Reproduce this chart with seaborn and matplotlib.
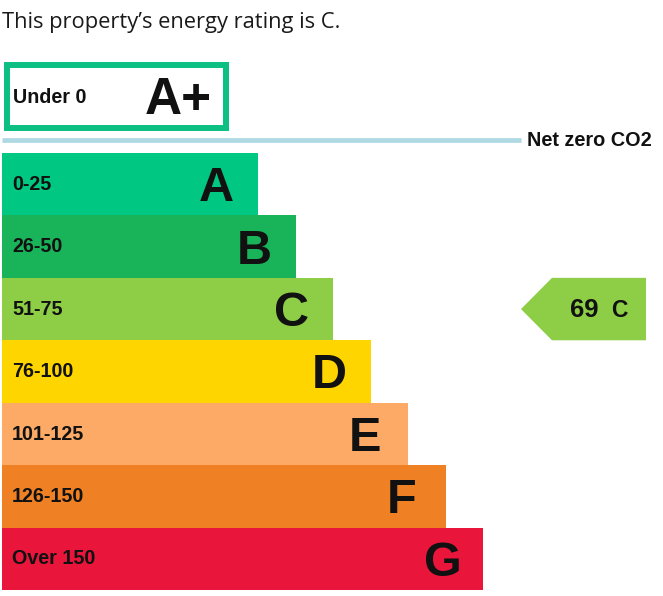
import matplotlib
matplotlib.use("Agg")
import matplotlib.pyplot as plt
import seaborn as sns
import pandas as pd

sns.set_theme(style="white")
plt.rcParams["font.family"] = ["Liberation Sans", "DejaVu Sans"]

# bar lengths in picture pixels, the chart has no real value axis
bands = ["A", "B", "C", "D", "E", "F", "G"]
ranges = ["0-25", "26-50", "51-75", "76-100", "101-125", "126-150", "Over 150"]
lengths = [256, 294, 331, 369, 406, 444, 481]
colors = ["#00c781", "#19b459", "#8dce46", "#ffd500", "#fcaa65", "#ef8023", "#e9153b"]

top_band = ["A+"]
top_range = ["Under 0"]
top_length = [219]

current_score = 69
current_band = "C"
net_zero_label = "Net zero CO2"
title = "This property\u2019s energy rating is C."

W, H = 663, 596
INK = "#111111"
fig = plt.figure(figsize=(W / 100, H / 100), dpi=100)


def px_axes(left, top, right, bottom):
    ax = fig.add_axes([left / W, 1 - bottom / H, (right - left) / W, (bottom - top) / H])
    ax.axis("off")
    return ax


df = pd.DataFrame({"band": bands, "range": ranges, "length": lengths})

# main bands
ax = px_axes(2, 153, 663, 590)
sns.barplot(data=df, x="length", y="band", hue="band", palette=colors, width=1,
            saturation=1, legend=False, dodge=False, linewidth=0, ax=ax)
ax.axis("off")

for i, row in df.iterrows():
    ax.text(10, i - 0.03, row["range"], ha="left", va="center_baseline", fontsize=14.2, fontweight="bold", color=INK)
    ax.text(row["length"] - 59, i - 0.01, row["band"], ha="left", va="center_baseline",
            fontsize=35, fontweight="bold", color=INK)

# A+ box sits above the others
top_df = pd.DataFrame({"band": top_band, "length": top_length})
ax_top = px_axes(7, 65, 300, 128)
sns.barplot(data=top_df, x="length", y="band", width=1, color="white", saturation=1,
            edgecolor="#0cc083", linewidth=4.3, ax=ax_top)
ax_top.set_xlim(0, 293)
ax_top.set_ylim(0.5, -0.5)
ax_top.axis("off")
for p in ax_top.patches:
    p.set_clip_on(False)
ax_top.text(6, -0.02, top_range[0], ha="left", va="center_baseline", fontsize=14.2, fontweight="bold", color=INK)
ax_top.text(138, -0.03, top_band[0], ha="left", va="center_baseline", fontsize=37, fontweight="bold", color=INK)

# net zero line
line_y = 1 - 140 / H
fig.add_artist(plt.Line2D([2 / W, 521 / W], [line_y, line_y], color="#aed8e2", lw=3.4,
                          solid_capstyle="butt"))
fig.text(527 / W, line_y + 1 / H, net_zero_label, ha="left", va="center_baseline", fontsize=14.3, fontweight="bold", color=INK)

# current rating arrow, on row C of the main axes
row = bands.index(current_band)
ax.fill([519, 550, 644, 644, 550], [row, row - 0.5, row - 0.5, row + 0.5, row + 0.5],
        color=colors[row], linewidth=0)
ax.text(568, row - 0.02, str(current_score), ha="left", va="center_baseline", fontsize=18.5, fontweight="bold", color=INK)
ax.text(609, row - 0.02, current_band, ha="left", va="center_baseline", fontsize=16.5, fontweight="bold", color=INK)

# fill() autoscales, so pin the limits after it
ax.set_xlim(0, 661)
ax.set_ylim(6.5, -0.5)

fig.text(2 / W, 1 - 20 / H, title, ha="left", va="center_baseline", fontsize=15.75, family="Open Sans", color="#1a1a1a")

fig.savefig("out.png", dpi=100)
